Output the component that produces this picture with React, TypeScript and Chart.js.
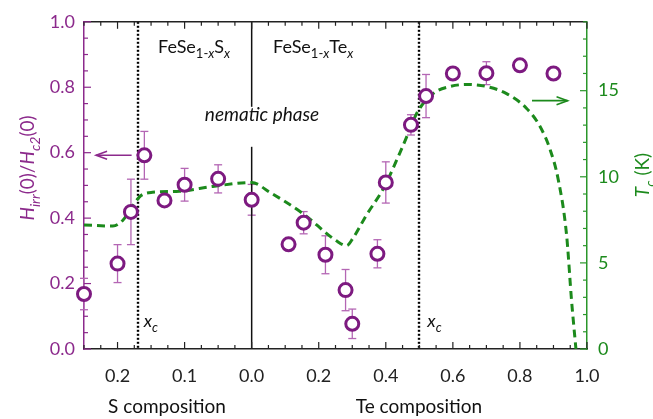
import React, { useEffect, useRef } from 'react';
import { Chart, registerables } from 'chart.js';
Chart.register(...registerables);

// ---- Data: FeSe(1-x)S(x) side (S composition) ----
const S_COMP = [0.25, 0.20, 0.18, 0.16, 0.13, 0.10, 0.05, 0.0];
const S_HIRR = [0.168, 0.261, 0.419, 0.592, 0.454, 0.502, 0.52, 0.456];
const S_ERR = [0.048, 0.058, 0.1, 0.073, 0, 0.05, 0.043, 0.047];

// ---- Data: FeSe(1-x)Te(x) side (Te composition) ----
const TE_COMP = [0.11, 0.155, 0.22, 0.28, 0.30, 0.375, 0.40, 0.475, 0.52, 0.60, 0.70, 0.80, 0.90];
const TE_HIRR = [0.32, 0.386, 0.288, 0.18, 0.077, 0.291, 0.509, 0.685, 0.773, 0.842, 0.843, 0.867, 0.842];
const TE_ERR = [0, 0.034, 0.058, 0.063, 0.045, 0.043, 0.063, 0.031, 0.066, 0, 0.035, 0, 0];

// ---- Tc curve (K) ----
const TC_S_COMP = [0.25, 0.207, 0.192, 0.177, 0.165, 0.148, 0.108, 0.058, 0.0];
const TC_S_VAL = [7.2, 7.14, 7.48, 8.34, 8.91, 9.1, 9.16, 9.44, 9.67];
const TC_TE_COMP = [0.054, 0.153, 0.253, 0.283, 0.302, 0.342, 0.392, 0.442, 0.477, 0.492, 0.541, 0.591, 0.641, 0.701, 0.760, 0.82, 0.86, 0.89, 0.914, 0.939, 0.954, 0.967];
const TC_TE_VAL = [9.1, 7.86, 6.28, 6.0, 6.43, 7.77, 9.29, 11.39, 13.0, 13.68, 14.83, 15.24, 15.36, 15.24, 14.83, 13.97, 12.92, 11.58, 9.86, 6.64, 2.8, 0];

// critical compositions
const XC_S = 0.17;
const XC_TE = 0.5;

// ---- Ticks ----
const X_TICK_VALUES = [-0.4, -0.2, 0, 0.2, 0.4, 0.6, 0.8, 1.0];
const X_TICK_LABELS = ['0.2', '0.1', '0.0', '0.2', '0.4', '0.6', '0.8', '1.0'];
const Y_TICKS = [0, 0.2, 0.4, 0.6, 0.8, 1.0];
const TC_TICKS = [0, 5, 10, 15];

const sToAxis = (s: number) => -2 * s;

const PURPLE = '#7d1a80';
const PURPLE_AXIS = '#8c2a8c';
const PURPLE_ERR = '#b466b4';
const GREEN = '#1c8a1c';
const GREEN_AXIS = '#2a962a';
const FONT = 'Lato, "Open Sans", sans-serif';

type Part = { t: string; it?: boolean; sub?: boolean };

function partFont(p: Part, size: number) {
  return `${p.it ? 'italic ' : ''}${p.sub ? Math.round(size * 0.72) : size}px ${FONT}`;
}
function drawRich(ctx: CanvasRenderingContext2D, parts: Part[], x: number, y: number, size: number, color: string, align: 'left' | 'center') {
  let w = 0;
  for (const p of parts) {
    ctx.font = partFont(p, size);
    w += ctx.measureText(p.t).width;
  }
  let cx = align === 'center' ? x - w / 2 : x;
  ctx.fillStyle = color;
  ctx.textAlign = 'left';
  ctx.textBaseline = 'alphabetic';
  for (const p of parts) {
    ctx.font = partFont(p, size);
    ctx.fillText(p.t, cx, p.sub ? y + size * 0.3 : y);
    cx += ctx.measureText(p.t).width;
  }
}

function line(ctx: CanvasRenderingContext2D, x1: number, y1: number, x2: number, y2: number) {
  ctx.beginPath();
  ctx.moveTo(x1, y1);
  ctx.lineTo(x2, y2);
  ctx.stroke();
}

function arrow(ctx: CanvasRenderingContext2D, xFrom: number, xTo: number, y: number, color: string) {
  ctx.strokeStyle = color;
  ctx.lineWidth = 1.6;
  ctx.setLineDash([]);
  line(ctx, xFrom, y, xTo, y);
  const d = xTo > xFrom ? -1 : 1;
  ctx.beginPath();
  ctx.moveTo(xTo + d * 11, y - 4);
  ctx.lineTo(xTo, y);
  ctx.lineTo(xTo + d * 11, y + 4);
  ctx.stroke();
}

const errorBarPlugin = {
  id: 'errorBars',
  beforeDatasetsDraw(chart: any) {
    const ctx = chart.ctx as CanvasRenderingContext2D;
    const xs = chart.scales.x, ys = chart.scales.y;
    const ds = chart.data.datasets[0];
    ctx.save();
    ctx.strokeStyle = PURPLE_ERR;
    ctx.lineWidth = 1.3;
    for (const p of ds.data as any[]) {
      if (!p.e) continue;
      const px = xs.getPixelForValue(p.x);
      const y1 = ys.getPixelForValue(p.y + p.e);
      const y2 = ys.getPixelForValue(p.y - p.e);
      line(ctx, px, y1, px, y2);
      line(ctx, px - 4, y1, px + 4, y1);
      line(ctx, px - 4, y2, px + 4, y2);
    }
    ctx.restore();
  },
};

const decorPlugin = {
  id: 'decor',
  beforeDatasetsDraw(chart: any) {
    const ctx = chart.ctx as CanvasRenderingContext2D;
    const xs = chart.scales.x;
    const { top, bottom } = chart.chartArea;
    ctx.save();
    // solid divider at 0 composition (gap for label)
    ctx.strokeStyle = '#111';
    ctx.lineWidth = 1.5;
    const x0 = xs.getPixelForValue(0);
    line(ctx, x0, top, x0, top + 85);
    line(ctx, x0, top + 125, x0, bottom);
    // dotted x_c lines
    ctx.lineWidth = 2.4;
    ctx.strokeStyle = '#000';
    ctx.setLineDash([2, 2]);
    for (const u of [sToAxis(XC_S), XC_TE]) {
      const px = Math.round(xs.getPixelForValue(u));
      line(ctx, px, top, px, bottom);
    }
    ctx.restore();
  },
  afterDraw(chart: any) {
    const ctx = chart.ctx as CanvasRenderingContext2D;
    const xs = chart.scales.x, ys = chart.scales.y, yr = chart.scales.y2;
    const { left, right, top, bottom } = chart.chartArea;
    ctx.save();
    ctx.setLineDash([]);
    // top border
    ctx.strokeStyle = '#222';
    ctx.lineWidth = 1.5;
    line(ctx, left, top, right, top);
    // x inward ticks (bottom & top)
    ctx.lineWidth = 1.2;
    for (let i = 0; i <= 30; i++) {
      const u = -0.5 + i * 0.05;
      const px = xs.getPixelForValue(u);
      const major = Math.abs(u * 5 - Math.round(u * 5)) < 1e-6;
      const L = major ? 7 : 4;
      line(ctx, px, bottom, px, bottom - L);
      line(ctx, px, top, px, top + L);
    }
    // left ticks
    ctx.strokeStyle = PURPLE_AXIS;
    for (let i = 0; i <= 20; i++) {
      const v = i * 0.05;
      const py = ys.getPixelForValue(v);
      const L = i % 4 === 0 ? 7 : 4;
      line(ctx, left, py, left + L, py);
    }
    // right ticks
    ctx.strokeStyle = GREEN_AXIS;
    for (let t = 0; t <= 19; t++) {
      const py = yr.getPixelForValue(t);
      const L = t % 5 === 0 ? 7 : 4;
      line(ctx, right, py, right - L, py);
    }

    // arrows
    arrow(ctx, xs.getPixelForValue(sToAxis(0.179)), xs.getPixelForValue(sToAxis(0.232)), ys.getPixelForValue(0.592), PURPLE_AXIS);
    arrow(ctx, xs.getPixelForValue(0.836), xs.getPixelForValue(0.942), yr.getPixelForValue(14.42), GREEN);

    // in-plot labels
    drawRich(ctx, [{ t: 'FeSe' }, { t: '1-', sub: true }, { t: 'x', it: true, sub: true }, { t: 'S' }, { t: 'x', it: true, sub: true }], 158, 53, 18, '#111', 'left');
    drawRich(ctx, [{ t: 'FeSe' }, { t: '1-', sub: true }, { t: 'x', it: true, sub: true }, { t: 'Te' }, { t: 'x', it: true, sub: true }], 273, 53, 18, '#111', 'left');
    drawRich(ctx, [{ t: 'nematic phase', it: true }], 262, 121, 19, '#111', 'center');
    drawRich(ctx, [{ t: 'x', it: true }, { t: 'c', it: true, sub: true }], xs.getPixelForValue(sToAxis(XC_S)) + 6, 327, 18, '#111', 'left');
    drawRich(ctx, [{ t: 'x', it: true }, { t: 'c', it: true, sub: true }], xs.getPixelForValue(XC_TE) + 8, 327, 18, '#111', 'left');

    // axis titles
    drawRich(ctx, [{ t: 'S composition' }], 167, 413, 19, '#111', 'center');
    drawRich(ctx, [{ t: 'Te composition' }], 419, 413, 19, '#111', 'center');

    ctx.save();
    ctx.translate(34, 168);
    ctx.rotate(-Math.PI / 2);
    drawRich(ctx, [{ t: 'H', it: true }, { t: 'irr', it: true, sub: true }, { t: '(0)/' }, { t: 'H', it: true }, { t: 'c2', it: true, sub: true }, { t: '(0)' }], 0, 0, 19, PURPLE_AXIS, 'center');
    ctx.restore();

    ctx.save();
    ctx.translate(649, 175);
    ctx.rotate(-Math.PI / 2);
    drawRich(ctx, [{ t: 'T', it: true }, { t: 'c', it: true, sub: true }, { t: ' (K)' }], 0, 0, 19, GREEN, 'center');
    ctx.restore();

    ctx.restore();
  },
};

export default function App() {
  const ref = useRef<HTMLCanvasElement | null>(null);
  useEffect(() => {
    if (!ref.current) return;
    const points = [
      ...S_COMP.map((s, i) => ({ x: sToAxis(s), y: S_HIRR[i], e: S_ERR[i] })),
      ...TE_COMP.map((t, i) => ({ x: t, y: TE_HIRR[i], e: TE_ERR[i] })),
    ];
    const tcCurve = [
      ...TC_S_COMP.map((s, i) => ({ x: sToAxis(s), y: TC_S_VAL[i] })),
      ...TC_TE_COMP.map((t, i) => ({ x: t, y: TC_TE_VAL[i] })),
    ];
    const chart = new Chart(ref.current, {
      type: 'scatter',
      data: {
        datasets: [
          {
            label: 'Hirr/Hc2',
            data: points,
            yAxisID: 'y',
            showLine: false,
            pointRadius: 6.5,
            pointBorderWidth: 3,
            pointBorderColor: PURPLE,
            pointBackgroundColor: '#ffffff',
            clip: false as any,
            order: 1,
          } as any,
          {
            label: 'Tc',
            data: tcCurve,
            yAxisID: 'y2',
            showLine: true,
            borderColor: GREEN,
            borderWidth: 3,
            borderDash: [8, 5],
            pointRadius: 0,
            cubicInterpolationMode: 'monotone',
            order: 2,
          } as any,
        ],
      },
      options: {
        animation: false,
        responsive: false,
        devicePixelRatio: 1,
        layout: { padding: { top: 17, left: 0, right: 0, bottom: 0 } },
        plugins: { legend: { display: false }, tooltip: { enabled: false } },
        scales: {
          x: {
            type: 'linear',
            min: -0.5,
            max: 1.0,
            grid: { drawOnChartArea: false, drawTicks: false },
            border: { display: true, color: '#222', width: 1.5 },
            afterBuildTicks: (s: any) => { s.ticks = X_TICK_VALUES.map((v) => ({ value: v })); },
            afterFit: (s: any) => { s.height = 70; },
            ticks: {
              padding: 16,
              color: '#222',
              font: { family: FONT, size: 18 },
              maxRotation: 0,
              callback: (v: any) => {
                const i = X_TICK_VALUES.findIndex((t) => Math.abs(t - Number(v)) < 1e-6);
                return i >= 0 ? X_TICK_LABELS[i] : '';
              },
            },
          },
          y: {
            type: 'linear',
            position: 'left',
            min: 0,
            max: 1,
            grid: { drawOnChartArea: false, drawTicks: false },
            border: { display: true, color: PURPLE_AXIS, width: 1.5 },
            afterBuildTicks: (s: any) => { s.ticks = Y_TICKS.map((v) => ({ value: v })); },
            afterFit: (s: any) => { s.width = 84; },
            ticks: {
              padding: 9,
              color: PURPLE_AXIS,
              font: { family: FONT, size: 18 },
              callback: (v: any) => Number(v).toFixed(1),
            },
          },
          y2: {
            type: 'linear',
            position: 'right',
            min: 0,
            max: 19,
            grid: { drawOnChartArea: false, drawTicks: false },
            border: { display: true, color: GREEN_AXIS, width: 1.5 },
            afterBuildTicks: (s: any) => { s.ticks = TC_TICKS.map((v) => ({ value: v })); },
            afterFit: (s: any) => { s.width = 66; },
            ticks: {
              padding: 11,
              color: GREEN,
              font: { family: FONT, size: 18 },
              callback: (v: any) => String(v),
            },
          },
        },
      },
      plugins: [errorBarPlugin, decorPlugin],
    } as any);
    return () => chart.destroy();
  }, []);
  return (
    <div style={{ position: 'absolute', left: 0, top: 0, width: 653, height: 419, background: '#fff' }}>
      <canvas ref={ref} width={653} height={419} />
    </div>
  );
}
